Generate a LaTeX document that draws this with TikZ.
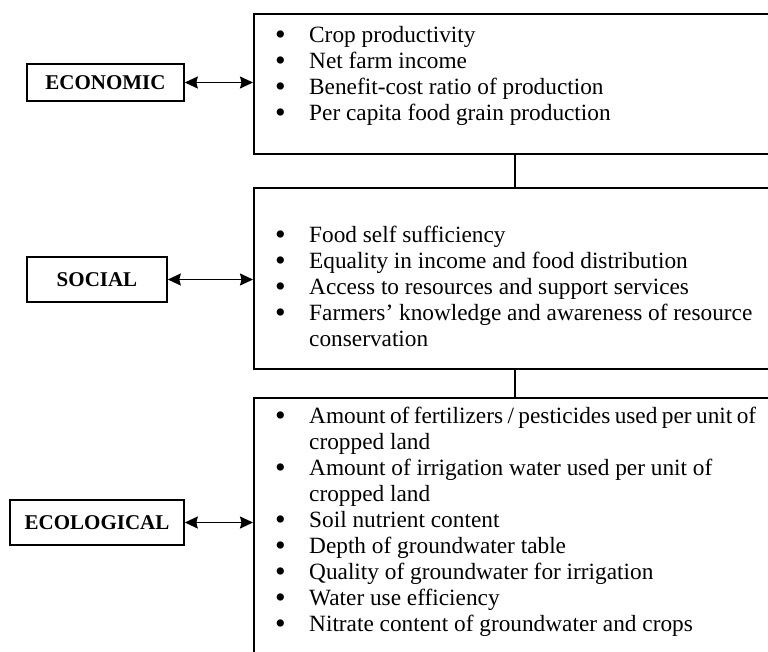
\documentclass[tikz,border=0pt]{standalone}
\usepackage{fontspec}
\setmainfont{Liberation Serif}
\usetikzlibrary{arrows.meta}
\newcommand\bul{\makebox[34pt][l]{\smash{\raisebox{-2.6pt}{\scalebox{1.3}{\textbullet}}}}}
\begin{document}
\begin{tikzpicture}[x=1pt,y=-1pt,
  frame/.style={draw, line width=1.6pt, inner sep=0pt, anchor=north west},
  lab/.style={draw, line width=1.6pt, inner sep=0pt, font=\fontsize{21}{24}\selectfont\bfseries},
  link/.style={line width=1.6pt},
  both/.style={line width=1.5pt, {Stealth[length=13pt,width=12pt,inset=1.5pt]}-{Stealth[length=13pt,width=12pt,inset=1.5pt]}},
  list/.style={anchor=base west, inner sep=0pt, font=\fontsize{23.3}{26}\selectfont}]
\useasboundingbox (0,0) rectangle (768,651);
% main boxes (run off the right edge and the bottom)
\node[frame, minimum width=560pt, minimum height=140pt] (top) at (253,13) {};
\node[frame, minimum width=560pt, minimum height=181pt] (mid) at (253,187) {};
\node[frame, minimum width=560pt, minimum height=320pt] (bot) at (253,397) {};
% labels
\node[lab, minimum width=157pt, minimum height=37pt] (econ) at (105.5,82.5) {ECONOMIC};
\node[lab, minimum width=140pt, minimum height=45pt] (social) at (97,279.5) {SOCIAL};
\node[lab, minimum width=174pt, minimum height=45pt] (ecol) at (97,522.5) {ECOLOGICAL};
% connectors
\coordinate (cx) at (515,0);
\draw[link] (top.south -| cx) -- (mid.north -| cx);
\draw[link] (mid.south -| cx) -- (bot.north -| cx);
\draw[both] (econ.east) -- (econ.east -| top.west);
\draw[both] (social.east) -- (social.east -| mid.west);
\draw[both] (ecol.east) -- (ecol.east -| bot.west);
% lists
\node[list] (toplist) at (275,42) {\begin{tabular}[t]{@{}l@{}l@{}}
\bul & Crop productivity\\
\bul & Net farm income\\
\bul & Benefit-cost ratio of production\\
\bul & Per capita food grain production
\end{tabular}};
\node[list] (midlist) at (275,242) {\begin{tabular}[t]{@{}l@{}l@{}}
\bul & Food self sufficiency\\
\bul & Equality in income and food distribution\\
\bul & Access to resources and support services\\
\bul & Farmers’ knowledge and awareness of resource\\
 & conservation
\end{tabular}};
\node[list] (botlist) at (275,423) {\begin{tabular}[t]{@{}l@{}l@{}}
\bul & \spaceskip=0.19em Amount of fertilizers / pesticides used per unit of\\
 & cropped land\\
\bul & Amount of irrigation water used per unit of\\
 & cropped land\\
\bul & Soil nutrient content\\
\bul & Depth of groundwater table\\
\bul & Quality of groundwater for irrigation\\
\bul & Water use efficiency\\
\bul & Nitrate content of groundwater and crops
\end{tabular}};
\end{tikzpicture}
\end{document}
